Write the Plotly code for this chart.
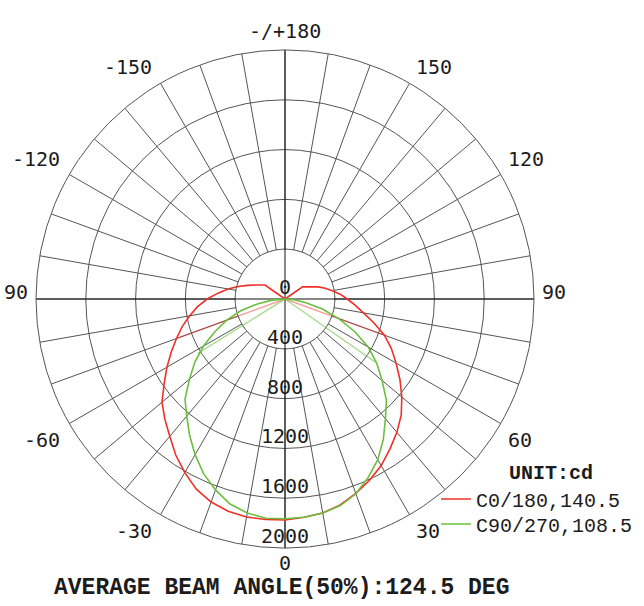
import math
import numpy as np
import plotly.graph_objects as go

# ---- data (gamma angle in degrees, intensity in cd) ----
gamma = list(range(-180, 185, 5))

c0_180 = [0, 0, 0, 0, 0, 0, 0, 0, 0, 0, 0,
          196, 225, 266, 320, 390, 465, 540, 625, 705, 777,
          855, 928, 1008, 1095, 1185, 1290, 1365, 1440, 1530, 1610,
          1685, 1735, 1765, 1778, 1778,
          1775,
          1760, 1746, 1712, 1662, 1607, 1545, 1470, 1398, 1320, 1225,
          1127, 1030, 943, 850, 738, 640, 565, 500, 445, 385,
          335, 284, 230, 195, 172,
          0, 0, 0, 0, 0, 0, 0, 0, 0, 0, 0]

c90_270 = [0, 0, 0, 0, 0, 0, 0, 0, 0, 0, 0, 0, 0, 0, 0, 0, 0, 0,
           0, 105, 226, 372, 498, 622, 756, 884, 1001, 1136,
           1228, 1336, 1444, 1548, 1632, 1705, 1745, 1768,
           1765,
           1760, 1745, 1718, 1665, 1581, 1490, 1377, 1255, 1152, 1018,
           900, 772, 617, 459, 311, 165, 72, 0,
           0, 0, 0, 0, 0, 0, 0, 0, 0, 0, 0, 0, 0, 0, 0, 0, 0, 0]

# faint spokes seen in the reference
c0_spoke_theta = [-70, 70]
c0_spoke_r = [915, 860]
c90_spoke_theta = [-58, 55]
c90_spoke_r = [825, 885]

radial_ticks = [0, 400, 800, 1200, 1600, 2000]
radial_labels = ["0", "400", "800", "1200", "1600", "2000"]

grid_angles = list(range(0, 360, 10))
angle_label_vals = [0, 30, 60, 90, 120, 150, 180, -150, -120, -90, -60, -30]
angle_label_text = ["0", "30", "60", "90", "120", "150", "-/+180",
                    "-150", "-120", "90", "-60", "-30"]

series_names = ["C0/180,140.5", "C90/270,108.5"]
title_text = "AVERAGE BEAM ANGLE(50%):124.5 DEG"
unit_text = "UNIT:cd"

# ---- styles ----
W, H = 644, 606
DOM_X = [36 / W, 534 / W]
DOM_Y = [58 / H, 556 / H]
RED = "#f03028"
GREEN = "#6cbf3c"
GRID = "#555555"
TXT = "#1c1c1c"
MONO = "DejaVu Sans Mono"

fig = go.Figure()

rmax = radial_ticks[-1]
circ = np.linspace(0, 360, 361)

# white disk hiding spokes inside the first ring
fig.add_trace(go.Scatterpolar(r=[radial_ticks[1]] * len(circ), theta=circ, mode="lines",
                              fill="toself", fillcolor="white", line=dict(width=0, color="white"),
                              hoverinfo="skip", showlegend=False))
# first ring redrawn
fig.add_trace(go.Scatterpolar(r=[radial_ticks[1]] * len(circ), theta=circ, mode="lines",
                              line=dict(width=1, color=GRID), hoverinfo="skip", showlegend=False))
# main cross lines
fig.add_trace(go.Scatterpolar(r=[rmax, rmax, None, rmax, rmax], theta=[0, 180, None, 90, 270],
                              mode="lines", line=dict(width=1, color="#111111"),
                              hoverinfo="skip", showlegend=False))

# faint spokes
fig.add_trace(go.Scatterpolar(r=[0, c0_spoke_r[0], None, 0, c0_spoke_r[1]],
                              theta=[c0_spoke_theta[0]] * 2 + [None] + [c0_spoke_theta[1]] * 2,
                              mode="lines", line=dict(width=1.5, color="rgba(240,48,40,0.45)"),
                              hoverinfo="skip", showlegend=False))
fig.add_trace(go.Scatterpolar(r=[0, c90_spoke_r[0], None, 0, c90_spoke_r[1]],
                              theta=[c90_spoke_theta[0]] * 2 + [None] + [c90_spoke_theta[1]] * 2,
                              mode="lines", line=dict(width=1.5, color="rgba(108,191,60,0.55)"),
                              hoverinfo="skip", showlegend=False))

# main curves (each in its own legend box so the row spacing can match)
fig.add_trace(go.Scatterpolar(r=c0_180, theta=gamma, mode="lines", name=series_names[0],
                              line=dict(width=1.6, color=RED), legend="legend"))
fig.add_trace(go.Scatterpolar(r=c90_270, theta=gamma, mode="lines", name=series_names[1],
                              line=dict(width=1.6, color=GREEN), legend="legend2"))

# radial tick labels along the 0 direction
fig.add_trace(go.Scatterpolar(r=radial_ticks, theta=[0] * len(radial_ticks), mode="text",
                              text=radial_labels, textposition="top center",
                              marker=dict(size=1),
                              textfont=dict(family=MONO, size=20, color=TXT),
                              hoverinfo="skip", showlegend=False, cliponaxis=False))

# angle labels: anchored at the outer ring of the polar domain
cxp, cyp = sum(DOM_X) / 2, sum(DOM_Y) / 2
rxp, ryp = (DOM_X[1] - DOM_X[0]) / 2, (DOM_Y[1] - DOM_Y[0]) / 2
annotations = []
for a, t in zip(angle_label_vals, angle_label_text):
    s, c = math.sin(math.radians(a)), -math.cos(math.radians(a))
    sx = 0 if abs(s) < 1e-6 else (1 if s > 0 else -1)
    sy = 0 if abs(c) < 1e-6 else (1 if c > 0 else -1)
    ann = dict(text=t, x=cxp + rxp * s, y=cyp + ryp * c, xref="paper", yref="paper",
               showarrow=False, font=dict(family=MONO, size=20, color=TXT))
    if sx == 0:
        ann.update(xanchor="center", yanchor="bottom" if sy > 0 else "top",
                   yshift=5 if sy > 0 else -1)
    elif sy == 0:
        ann.update(xanchor="left" if sx > 0 else "right", yanchor="middle",
                   xshift=6 * sx, yshift=7)
    else:
        ann.update(xanchor="left" if sx > 0 else "right",
                   yanchor="bottom" if sy > 0 else "top",
                   xshift=5 * sx - (2 if sx < 0 else 0), yshift=2 * sy)
    annotations.append(ann)

annotations += [
    dict(text="<b>" + title_text + "</b>", x=281 / W, y=1 - 588 / H, xref="paper", yref="paper",
         xanchor="center", yanchor="middle", showarrow=False,
         font=dict(family="Liberation Mono", size=23, color=TXT)),
    dict(text="<b>" + unit_text + "</b>", x=551 / W, y=1 - 473 / H, xref="paper", yref="paper",
         xanchor="center", yanchor="middle", showarrow=False,
         font=dict(family="Liberation Mono", size=20, color=TXT)),
]

leg_common = dict(xanchor="left", yanchor="middle",
                  font=dict(family="Liberation Mono", size=20, color=TXT),
                  bgcolor="rgba(0,0,0,0)", itemwidth=30, borderwidth=0)

fig.update_layout(
    width=W, height=H,
    margin=dict(l=0, r=0, t=0, b=0),
    paper_bgcolor="white",
    polar=dict(
        domain=dict(x=DOM_X, y=DOM_Y),
        bgcolor="white",
        angularaxis=dict(rotation=-90, direction="counterclockwise",
                         tickmode="array", tickvals=grid_angles, showticklabels=False,
                         ticks="", showgrid=True, gridcolor=GRID, gridwidth=1,
                         showline=True, linecolor=GRID, linewidth=1),
        radialaxis=dict(range=[0, rmax], tickmode="array", tickvals=radial_ticks,
                        showticklabels=False, ticks="", showline=False,
                        showgrid=True, gridcolor=GRID, gridwidth=1),
    ),
    showlegend=True,
    legend=dict(x=436 / W, y=1 - 499 / H, **leg_common),
    legend2=dict(x=436 / W, y=1 - 524 / H, **leg_common),
    annotations=annotations,
)

fig.write_html("out.html")
